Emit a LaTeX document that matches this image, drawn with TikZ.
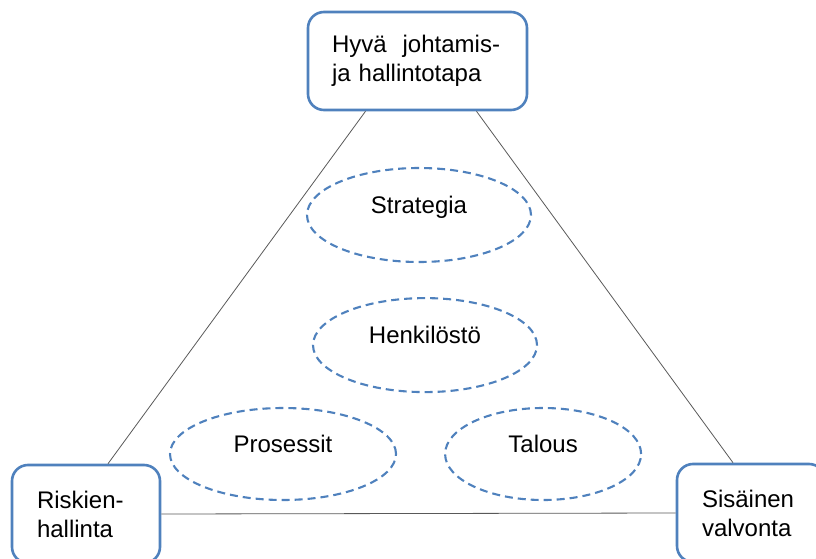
\documentclass[tikz,border=0pt]{standalone}
\usepackage{fontspec}
\setmainfont{Liberation Sans}
\usetikzlibrary{positioning,shapes.geometric}
\definecolor{boxblue}{RGB}{79,129,189}

\begin{document}
\begin{tikzpicture}
			[x=1pt,y=-1pt,
			corner/.style={rectangle,rounded corners=16pt,draw=boxblue,line width=2.6pt,fill=white,align=left,text width=98pt,minimum width=148pt,minimum height=98pt,font=\fontsize{24}{29}\selectfont},
			area/.style={ellipse,draw=boxblue,line width=2.1pt,dash pattern=on 8pt off 5pt,inner sep=0pt,text height=17pt,text depth=20pt,font=\fontsize{24}{29}\selectfont},
			link/.style={draw=black!65,line width=0.8pt},
			]
			\useasboundingbox (0,0) rectangle (816,559);
			\node (gov) [corner,text width=171pt,minimum width=219pt] at (417.5,61) {Hyvä\ \ johtamis-\\ja hallintotapa};
			\node (risk) [corner] at (86,514) {Riskien-\\hallinta};
			\node (ctrl) [corner] at (751,513) {Sisäinen\\valvonta};
			\node (strat) [area,minimum width=224pt,minimum height=94pt] at (419,215) {Strategia};
			\node (staff) [area,minimum width=224pt,minimum height=94pt,below=34pt of strat,xshift=6pt] {Henkilöstö};
			\node (proc) [area,minimum width=226pt,minimum height=92pt] at (283,454) {Prosessit};
			\node (econ) [area,minimum width=196pt,minimum height=92pt,right=47pt of proc] {Talous};
			\draw[link] ([xshift=-52pt]gov.south) -- ([xshift=22pt]risk.north);
			\draw[link] ([xshift=59pt]gov.south) -- ([xshift=-18pt]ctrl.north);
			\draw[link] (risk.east) -- (ctrl.west);
			\end{tikzpicture}
\end{document}
